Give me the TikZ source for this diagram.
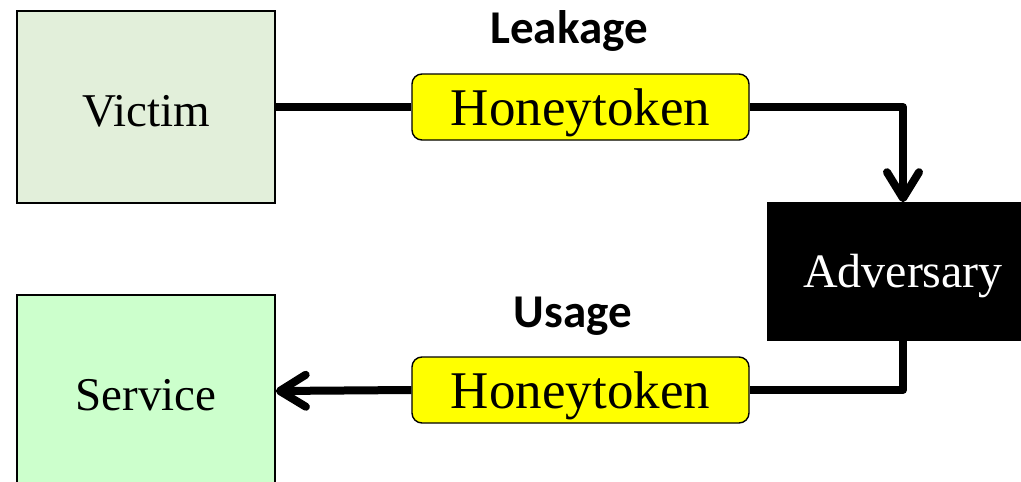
\documentclass[tikz,border=0pt]{standalone}
\usepackage{fontspec}
\setmainfont{Liberation Serif}
\newfontfamily\labelfont{Carlito}
\usetikzlibrary{arrows.meta}
\definecolor{victimfill}{RGB}{226,239,218}
\definecolor{servicefill}{RGB}{204,255,204}
\definecolor{tokenfill}{RGB}{255,255,0}
\begin{document}
\begin{tikzpicture}[x=1pt,y=-1pt,
  party/.style={draw=black,line width=1.6pt,inner sep=0pt,
    minimum width=258pt,minimum height=192pt,
    font=\fontsize{47}{50}\selectfont,text height=39pt,text depth=0pt},
  token/.style={draw=black,line width=1.4pt,fill=tokenfill,rounded corners=10pt,
    inner sep=0pt,minimum width=337pt,minimum height=66pt,
    font=\fontsize{53}{56}\selectfont,text height=36pt,text depth=0pt},
  flowlabel/.style={font=\labelfont\bfseries\fontsize{47}{50}\selectfont},
  flow/.style={line width=8pt,line join=round},
  tip/.style={-{Straight Barb[length=26pt,width=32pt,line cap=round,line join=round]}}]
  \useasboundingbox (0,0) rectangle (1021,482);
  \clip (0,0) rectangle (1021,482);

  % the three parties
  \node[party,fill=victimfill] (victim) at (146,107) {Victim};
  \node[party,fill=servicefill] (service) at (146,391) {Service};
  \node[party,fill=black,text=white,minimum width=270pt,minimum height=137pt,
    text height=31pt,font=\fontsize{48}{50}\selectfont]
    (adversary) at (903,271.5) {Adversary};

  % tokens passed along the way
  \node[token] (leaked) at (580.5,107) {Honeytoken};
  \node[token] (used) at (580.5,390) {Honeytoken};

  \node[flowlabel] (leaklabel) at (569,31) {Leakage};
  \node[flowlabel] (uselabel) at (573,316) {Usage};

  % leakage path: victim -> token -> adversary
  \draw[flow] (victim.east) -- (leaked.west);
  \draw[flow,tip] (leaked.east) -| (adversary.north);

  % usage path: adversary -> token -> service
  \draw[flow] (adversary.south) |- (used.east);
  \draw[flow,tip] (used.west) -- (service.east);
\end{tikzpicture}
\end{document}
